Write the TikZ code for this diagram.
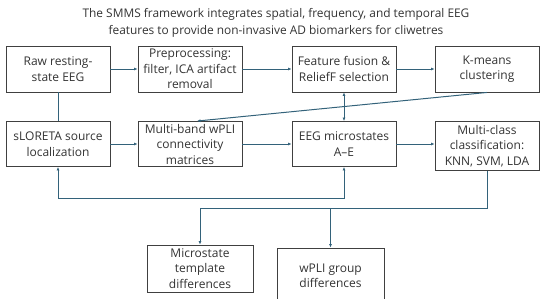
\documentclass[tikz,border=0pt]{standalone}
\usepackage{fontspec}
\setmainfont{Open Sans}
\usetikzlibrary{arrows.meta}
\definecolor{lc}{HTML}{33627A}
\definecolor{bc}{HTML}{404040}
\definecolor{tc}{HTML}{333333}
\begin{document}
\begin{tikzpicture}[x=1pt,y=-1pt,
 box/.style={draw=bc, line width=0.9pt, align=center, inner sep=0pt, minimum width=104pt, minimum height=46pt, font=\fontsize{12}{15.5}\selectfont, text=tc},
 link/.style={draw=lc, line width=1pt},
 conn/.style={link, -{Latex[length=3.5pt,width=3pt]}},
 both/.style={link, {Latex[length=3.5pt,width=3pt]}-{Latex[length=3.5pt,width=3pt]}},
]
\useasboundingbox (0,0) rectangle (550,298);
\node[align=center, font=\fontsize{11.9}{17}\selectfont, text=tc] (title) at (276,23)
  {The SMMS framework integrates spatial, frequency, and temporal EEG\\features to provide non-invasive AD biomarkers for cliwetres};
% row 1
\node[box] (raw) at (58,69) {Raw resting-\\state EEG};
\node[box] (pre) at (190,69) {Preprocessing:\\filter, ICA artifact\\removal};
\node[box] (fus) at (344,69) {Feature fusion \&\\ReliefF selection};
\node[box] (km) at (487,69) {K-means\\clustering};
% row 2
\node[box, minimum height=45pt] (slo) at (58,144) {sLORETA source\\localization};
\node[box, minimum height=45pt] (wpli) at (190,144) {Multi-band wPLI\\connectivity\\matrices};
\node[box, minimum height=45pt] (ms) at (344,144) {EEG microstates\\A--E};
\node[box, minimum height=49pt] (cls) at (487,146) {Multi-class\\classification:\\KNN, SVM, LDA};
% row 3
\node[box, minimum width=106pt, minimum height=47pt] (tmpl) at (200,268.5) {Microstate\\template\\differences};
\node[box, minimum width=107pt, minimum height=56pt] (grp) at (330.5,276) {wPLI group\\differences};
% connectors
\coordinate (loopy) at (0,198);
\coordinate (busy) at (0,208);
\draw[conn] (raw) -- (pre);
\draw[conn] (pre) -- (fus);
\draw[conn] (fus) -- (km);
\draw[link] (raw.south) -- (slo.north);
\draw[conn] (km.south) -- ([xshift=7pt]wpli.north);
\draw[both] (fus.south) -- (ms.north);
\draw[conn] (slo) -- (wpli);
\draw[conn] (wpli) -- (ms);
\draw[conn] (ms.east) -- (ms.east -| cls.west);
\draw[both] (slo.south) -- (slo.south |- loopy) -| (ms.south);
\draw[conn] (cls.south) |- (busy -| tmpl.north) -- (tmpl.north);
\draw[conn] (grp.north |- busy) -- (grp.north);
\end{tikzpicture}
\end{document}
